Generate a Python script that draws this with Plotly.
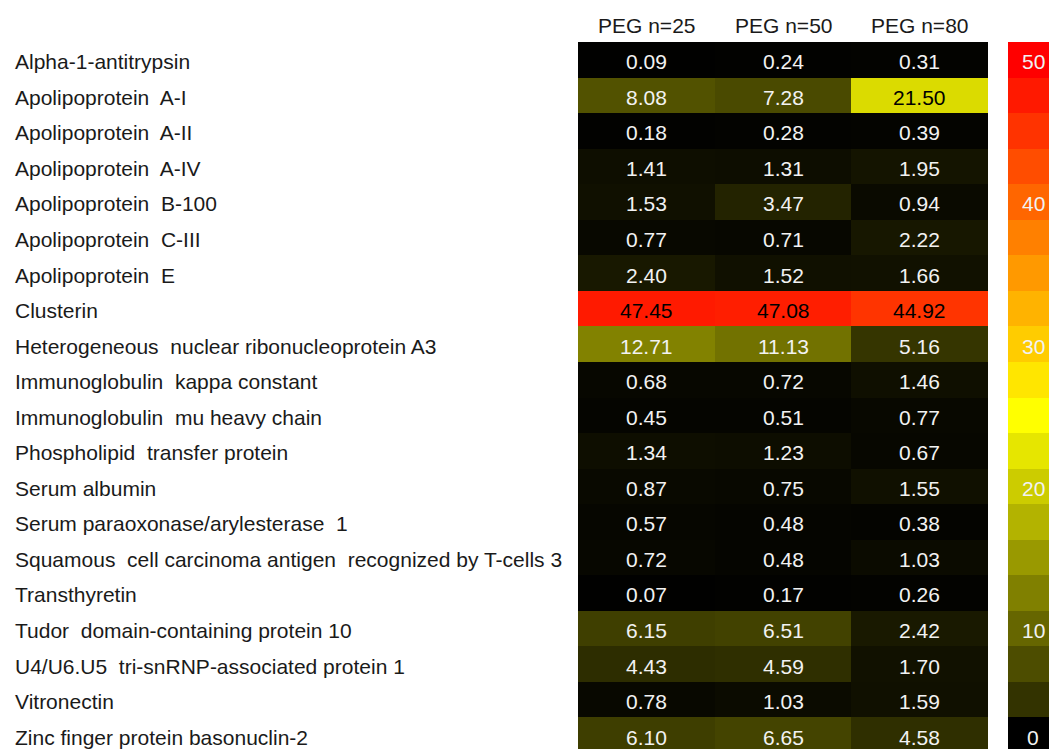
import plotly.graph_objects as go

proteins = [
    "Alpha-1-antitrypsin",
    "Apolipoprotein  A-I",
    "Apolipoprotein  A-II",
    "Apolipoprotein  A-IV",
    "Apolipoprotein  B-100",
    "Apolipoprotein  C-III",
    "Apolipoprotein  E",
    "Clusterin",
    "Heterogeneous  nuclear ribonucleoprotein A3",
    "Immunoglobulin  kappa constant",
    "Immunoglobulin  mu heavy chain",
    "Phospholipid  transfer protein",
    "Serum albumin",
    "Serum paraoxonase/arylesterase  1",
    "Squamous  cell carcinoma antigen  recognized by T-cells 3",
    "Transthyretin",
    "Tudor  domain-containing protein 10",
    "U4/U6.U5  tri-snRNP-associated protein 1",
    "Vitronectin",
    "Zinc finger protein basonuclin-2",
]
columns = ["PEG n=25", "PEG n=50", "PEG n=80"]
peg25 = [0.09, 8.08, 0.18, 1.41, 1.53, 0.77, 2.40, 47.45, 12.71, 0.68,
         0.45, 1.34, 0.87, 0.57, 0.72, 0.07, 6.15, 4.43, 0.78, 6.10]
peg50 = [0.24, 7.28, 0.28, 1.31, 3.47, 0.71, 1.52, 47.08, 11.13, 0.72,
         0.51, 1.23, 0.75, 0.48, 0.48, 0.17, 6.51, 4.59, 1.03, 6.65]
peg80 = [0.31, 21.50, 0.39, 1.95, 0.94, 2.22, 1.66, 44.92, 5.16, 1.46,
         0.77, 0.67, 1.55, 0.38, 1.03, 0.26, 2.42, 1.70, 1.59, 4.58]

legend_values = [50, 47.5, 45, 42.5, 40, 37.5, 35, 32.5, 30, 27.5,
                 25, 22.5, 20, 17.5, 15, 12.5, 10, 7.5, 5, 0]
legend_labels = ["50", "", "", "", "40", "", "", "", "30", "", "",
                 "", "20", "", "", "", "10", "", "", "0"]

colorscale = [[0.0, "#000000"], [0.5, "#FFFF00"], [1.0, "#FF0000"]]
FONT = "Liberation Sans, Arial, sans-serif"
FS = 21

n = len(proteins)
rows = list(range(n))
series = [peg25, peg50, peg80]
z = [[series[c][r] for c in range(3)] for r in range(n)]

fig = go.Figure()
fig.add_trace(go.Heatmap(
    z=z, x=columns, y=rows, colorscale=colorscale, zmin=0, zmax=50,
    showscale=False, xaxis="x", yaxis="y", hoverinfo="skip",
))
fig.add_trace(go.Heatmap(
    z=[[v] for v in legend_values], x=[0], y=rows, colorscale=colorscale,
    zmin=0, zmax=50, showscale=False, xaxis="x2", yaxis="y", hoverinfo="skip",
))

annotations = []
for r in range(n):
    for c, col in enumerate(columns):
        v = series[c][r]
        annotations.append(dict(
            x=col, y=r, xref="x", yref="y", text=f"{v:.2f}", showarrow=False,
            yshift=-2,
            font=dict(family=FONT, size=FS, color="#000000" if v >= 18 else "#f2f2f2"),
        ))
    annotations.append(dict(
        x=-(578 - 15) / 471, y=r, xref="paper", yref="y", text=proteins[r],
        xanchor="left", showarrow=False, yshift=-2, xshift=-2,
        font=dict(family=FONT, size=FS, color="#1a1a1a"),
    ))
    if legend_labels[r]:
        annotations.append(dict(
            x=0, y=r, xref="x2", yref="y", text=legend_labels[r], showarrow=False,
            yshift=-2, font=dict(family=FONT, size=FS, color="#f2f2f2"),
        ))
for col in columns:
    annotations.append(dict(
        x=col, y=1, xref="x", yref="paper", yanchor="bottom", yshift=3,
        text=col, showarrow=False, font=dict(family=FONT, size=FS, color="#1a1a1a"),
    ))

fig.update_layout(
    width=1049, height=749,
    margin=dict(l=578, r=0, t=42, b=0, pad=0),
    paper_bgcolor="white", plot_bgcolor="white",
    xaxis=dict(domain=[0, 410 / 471], showticklabels=False, showgrid=False,
               zeroline=False, ticks=""),
    xaxis2=dict(domain=[430 / 471, 1], range=[-0.5, 0.32], showticklabels=False,
                showgrid=False, zeroline=False, ticks=""),
    yaxis=dict(range=[19.39, -0.5], showticklabels=False, showgrid=False,
               zeroline=False, ticks=""),
    annotations=annotations,
)
fig.write_html("out.html")
